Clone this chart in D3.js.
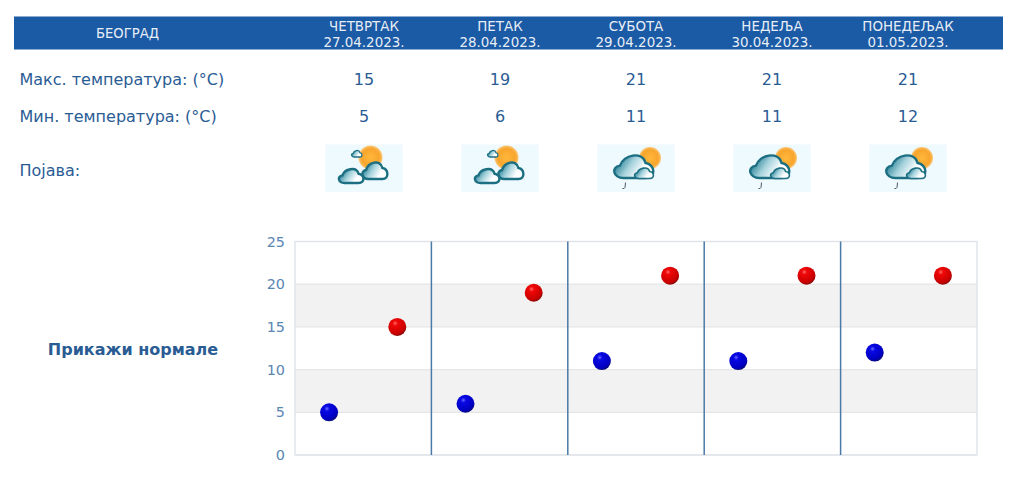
<!DOCTYPE html>
<html><head><meta charset="utf-8">
<script src="https://cdn.jsdelivr.net/npm/d3@7"></script>
<style>html,body{margin:0;padding:0;background:#fff;overflow:hidden}svg{display:block}</style>
</head><body><svg id="c" width="1024" height="479"></svg>
<script>
const city = "БЕОГРАД";
const days = ["ЧЕТВРТАК","ПЕТАК","СУБОТА","НЕДЕЉА","ПОНЕДЕЉАК"];
const dates = ["27.04.2023.","28.04.2023.","29.04.2023.","30.04.2023.","01.05.2023."];
const maxTemps = [15,19,21,21,21];
const minTemps = [5,6,11,11,12];
const icons = ["cloudy","cloudy","rain","rain","rain"];
const rowLabels = ["Макс. температура: (°C)","Мин. температура: (°C)","Појава:"];
const yTicks = [0,5,10,15,20,25];
const normalsLabel = "Прикажи нормале";

const svg = d3.select("#c");
const font = "'DejaVu Sans',Verdana,sans-serif";
const blue = "#1b5aa5", textBlue = "#2a5c94";

const defs = svg.append("defs");
function radial(id, stops, cx="38%", cy="30%", r="72%"){
  const g = defs.append("radialGradient").attr("id",id).attr("cx",cx).attr("cy",cy).attr("r",r);
  stops.forEach(s=>g.append("stop").attr("offset",s[0]).attr("stop-color",s[1]));
}
radial("ballRed",[["0","#ff6a6a"],["0.2","#f00808"],["0.8","#c80000"],["1","#8a0a0a"]]);
radial("ballBlue",[["0","#6a6aff"],["0.2","#0808e4"],["0.8","#0000c0"],["1","#0a0a78"]]);
radial("sun",[["0","#ffb83c"],["0.75","#f8a52c"],["1","#fbc77a"]],"50%","50%","50%");
const cg = defs.append("linearGradient").attr("id","cloud").attr("x1","0").attr("y1","0.3").attr("x2","1").attr("y2","0.7");
[["0","#0f6f86"],["0.4","#a5d2dc"],["0.75","#ffffff"]].forEach(s=>cg.append("stop").attr("offset",s[0]).attr("stop-color",s[1]));

// header
const colX = d3.scalePoint().domain(d3.range(days.length)).range([364,908]);
svg.append("rect").attr("x",14).attr("y",16.5).attr("width",989).attr("height",33).attr("fill",blue);
svg.append("text").attr("x",127.5).attr("y",38).attr("text-anchor","middle").attr("fill","#e8eef6")
   .attr("font-family",font).attr("font-size",13.2).text(city);
days.forEach((d,i)=>{
  svg.append("text").attr("x",colX(i)).attr("y",30.5).attr("text-anchor","middle").attr("fill","#e8eef6")
     .attr("font-family",font).attr("font-size",13.4).text(d);
  svg.append("text").attr("x",colX(i)).attr("y",46.5).attr("text-anchor","middle").attr("fill","#e8eef6")
     .attr("font-family",font).attr("font-size",13.4).text(dates[i]);
});

// rows
[84.5,122,176].forEach((y,i)=>svg.append("text").attr("x",19.5).attr("y",y).attr("fill",textBlue)
   .attr("font-family",font).attr("font-size",16).text(rowLabels[i]));
[[maxTemps,84.5],[minTemps,122]].forEach(([arr,y])=>arr.forEach((v,i)=>
  svg.append("text").attr("x",colX(i)).attr("y",y).attr("text-anchor","middle").attr("fill",textBlue)
     .attr("font-family",font).attr("font-size",16).text(v)));

// icons
const cloudPath = "M7,19 C1,19 -1,11 5,10 C7,2 19,-1 21,8 C27,9 28,19 21,19 Z";
function cloudShape(g,x0,y0,x1,y1,sw){
  g.append("path").attr("transform",`translate(${x0},${y0}) scale(${(x1-x0)/26},${(y1-y0)/19})`)
   .attr("d",cloudPath).attr("fill","url(#cloud)").attr("stroke","#1c6f82").attr("stroke-width",sw)
   .attr("vector-effect","non-scaling-stroke");
}
icons.forEach((t,i)=>{
  const g = svg.append("g").attr("transform",`translate(${colX(i)-38.5},144.5)`);
  g.append("rect").attr("width",77).attr("height",47.5).attr("fill","#eefafd");
  if(t==="cloudy"){
    g.append("circle").attr("cx",45).attr("cy",13).attr("r",12).attr("fill","url(#sun)");
    cloudShape(g,25.5,5,36.5,12.5,1.3);
    cloudShape(g,35.5,15.5,62,34.5,2.4);
    cloudShape(g,12,22.5,38,38.5,2.4);
  } else {
    g.append("circle").attr("cx",52.5).attr("cy",13.5).attr("r",11).attr("fill","url(#sun)");
    cloudShape(g,14.5,7.5,56,33.5,2.4);
    cloudShape(g,36,22,56,34,1.6);
    g.append("path").attr("d","M28,38 L27.5,43 Q27,44.5 25,44").attr("fill","none").attr("stroke","#556").attr("stroke-width",1);
  }
});

// bold label
svg.append("text").attr("x",133).attr("y",355).attr("text-anchor","middle").attr("fill",textBlue)
   .attr("font-family",font).attr("font-weight","bold").attr("font-size",16).text(normalsLabel);

// chart
const x = d3.scaleLinear().domain([0,days.length]).range([295,977]);
const y = d3.scaleLinear().domain([0,25]).range([455,241.5]);
const plot = svg.append("g");
[[5,10],[15,20]].forEach(([a,b])=>{
  plot.append("rect").attr("x",x(0)).attr("width",x(5)-x(0)).attr("y",y(b)).attr("height",y(a)-y(b)).attr("fill","#f2f2f2");
});
yTicks.forEach(t=>plot.append("line").attr("x1",x(0)).attr("x2",x(5)).attr("y1",y(t)).attr("y2",y(t))
   .attr("stroke","#e6e6e6").attr("stroke-width",1.2));
plot.append("rect").attr("x",x(0)).attr("y",y(25)).attr("width",x(5)-x(0)).attr("height",y(0)-y(25))
   .attr("fill","none").attr("stroke","#dfe3e8").attr("stroke-width",1.4);
d3.range(1,days.length).forEach(i=>plot.append("line").attr("x1",x(i)).attr("x2",x(i)).attr("y1",y(25)).attr("y2",y(0))
   .attr("stroke","#4a7aa8").attr("stroke-width",1.5));
const axis = d3.axisLeft(y).tickValues(yTicks).tickSize(0).tickPadding(10);
const ax = svg.append("g").attr("transform",`translate(${x(0)},0)`).call(axis);
ax.select(".domain").remove();
ax.selectAll("text").attr("font-family",font).attr("font-size",14.4).attr("fill","#5a86b4");

plot.selectAll(".min").data(minTemps).enter().append("circle").attr("class","min")
  .attr("cx",(d,i)=>x(i+0.25)).attr("cy",d=>y(d)).attr("r",9).attr("fill","url(#ballBlue)");
plot.selectAll(".max").data(maxTemps).enter().append("circle").attr("class","max")
  .attr("cx",(d,i)=>x(i+0.75)).attr("cy",d=>y(d)).attr("r",9).attr("fill","url(#ballRed)");
</script></body></html>
